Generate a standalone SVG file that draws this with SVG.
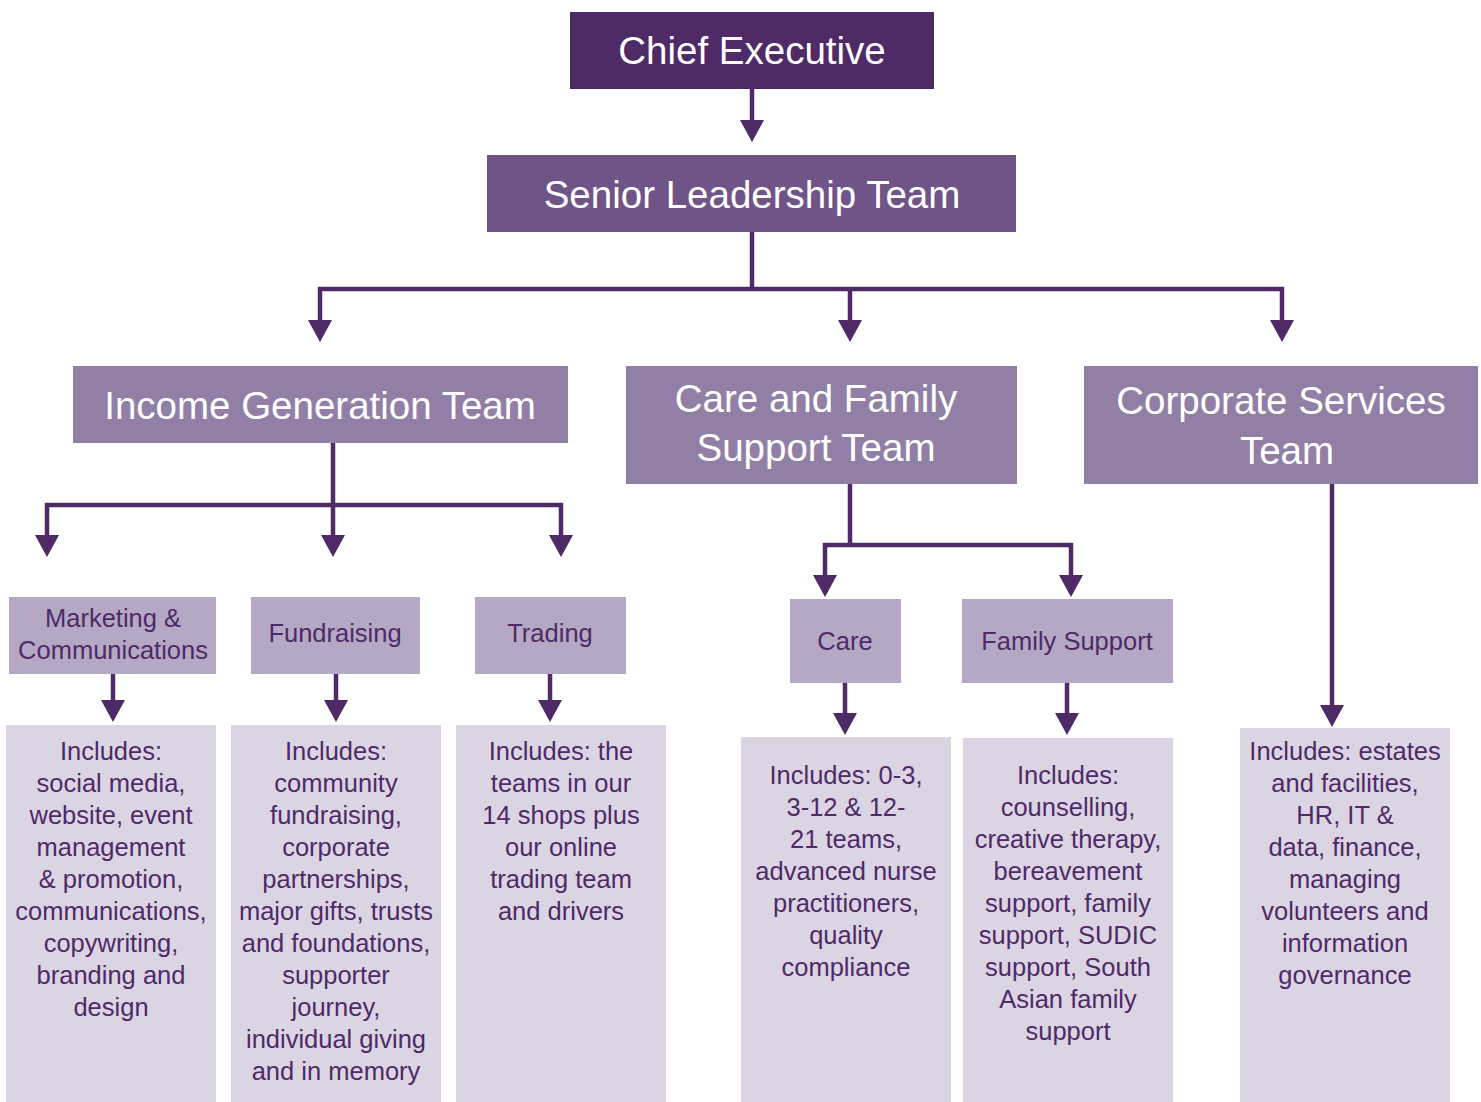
<svg xmlns="http://www.w3.org/2000/svg" width="1481" height="1102" viewBox="0 0 1481 1102">
<defs>
<style>
text{font-family:"Liberation Sans",Arial,sans-serif;text-anchor:middle}
.l1{fill:#4e2a67}
.l1b{fill:#6f5487}
.l2{fill:#927fa6}
.l3{fill:#b5a8c4}
.l4{fill:#dbd5e3}
.tw{fill:#ffffff;font-size:38.5px}
.tp{fill:#4e2a67;font-size:25.5px}
.td{fill:#4e2a67;font-size:25.5px}
.c{stroke:#4e2a67;stroke-width:4.5;fill:none}
.a{stroke:#4e2a67;stroke-width:4.5;fill:none;marker-end:url(#ah)}
</style>
<marker id="ah" markerUnits="userSpaceOnUse" viewBox="0 -12 22 24" refX="10" refY="0" markerWidth="22" markerHeight="24" orient="auto">
<path d="M0,-12 L22,0 L0,12 z" fill="#4e2a67"/>
</marker>
</defs>

<g id="connectors">
<line class="a" x1="752" y1="89" x2="752" y2="130"/>
<line class="c" x1="752" y1="232" x2="752" y2="289"/>
<line class="c" x1="318" y1="289" x2="1284" y2="289"/>
<line class="a" x1="320" y1="287" x2="320" y2="330"/>
<line class="a" x1="850" y1="289" x2="850" y2="330"/>
<line class="a" x1="1282" y1="287" x2="1282" y2="330"/>
<line class="c" x1="333" y1="443" x2="333" y2="505"/>
<line class="c" x1="45" y1="505" x2="563" y2="505"/>
<line class="a" x1="47" y1="503" x2="47" y2="545"/>
<line class="a" x1="333" y1="505" x2="333" y2="545"/>
<line class="a" x1="561" y1="503" x2="561" y2="545"/>
<line class="a" x1="113" y1="674" x2="113" y2="710"/>
<line class="a" x1="336" y1="674" x2="336" y2="710"/>
<line class="a" x1="550" y1="674" x2="550" y2="710"/>
<line class="c" x1="850" y1="484" x2="850" y2="545"/>
<line class="c" x1="823" y1="545" x2="1073" y2="545"/>
<line class="a" x1="825" y1="543" x2="825" y2="585"/>
<line class="a" x1="1071" y1="543" x2="1071" y2="585"/>
<line class="a" x1="845" y1="683" x2="845" y2="723"/>
<line class="a" x1="1067" y1="683" x2="1067" y2="723"/>
<line class="a" x1="1332" y1="484" x2="1332" y2="715"/>
</g>

<g id="chief">
<rect class="l1" x="570" y="12" width="364" height="77"/>
<text class="tw" x="752" y="64" font-size="39">Chief Executive</text>
</g>
<g id="slt">
<rect class="l1b" x="487" y="155" width="529" height="77"/>
<text class="tw" x="752" y="208">Senior Leadership Team</text>
</g>
<g id="income">
<rect class="l2" x="73" y="366" width="495" height="77"/>
<text class="tw" x="320" y="419">Income Generation Team</text>
</g>
<g id="carefamily">
<rect class="l2" x="626" y="366" width="391" height="118"/>
<text class="tw" x="816" y="412">Care and Family</text>
<text class="tw" x="816" y="461">Support Team</text>
</g>
<g id="corporate">
<rect class="l2" x="1084" y="366" width="394" height="118"/>
<text class="tw" x="1281" y="414">Corporate Services</text>
<text class="tw" x="1287" y="464">Team</text>
</g>

<g id="marketing">
<rect class="l3" x="9" y="597" width="207" height="77"/>
<text class="tp" x="113" y="627">Marketing &amp;</text>
<text class="tp" x="113" y="659">Communications</text>
</g>
<g id="fundraising">
<rect class="l3" x="251" y="597" width="169" height="77"/>
<text class="tp" x="335" y="642">Fundraising</text>
</g>
<g id="trading">
<rect class="l3" x="475" y="597" width="151" height="77"/>
<text class="tp" x="550" y="642">Trading</text>
</g>
<g id="care">
<rect class="l3" x="790" y="599" width="111" height="84"/>
<text class="tp" x="845" y="650">Care</text>
</g>
<g id="familysupport">
<rect class="l3" x="962" y="599" width="211" height="84"/>
<text class="tp" x="1067" y="650">Family Support</text>
</g>

<g id="marketing-detail">
<rect class="l4" x="6" y="725" width="210" height="377"/>
<text class="td" x="111" y="760">Includes:</text>
<text class="td" x="111" y="792">social media,</text>
<text class="td" x="111" y="824">website, event</text>
<text class="td" x="111" y="856">management</text>
<text class="td" x="111" y="888">&amp; promotion,</text>
<text class="td" x="111" y="920">communications,</text>
<text class="td" x="111" y="952">copywriting,</text>
<text class="td" x="111" y="984">branding and</text>
<text class="td" x="111" y="1016">design</text>
</g>
<g id="fundraising-detail">
<rect class="l4" x="231" y="725" width="210" height="377"/>
<text class="td" x="336" y="760">Includes:</text>
<text class="td" x="336" y="792">community</text>
<text class="td" x="336" y="824">fundraising,</text>
<text class="td" x="336" y="856">corporate</text>
<text class="td" x="336" y="888">partnerships,</text>
<text class="td" x="336" y="920">major gifts, trusts</text>
<text class="td" x="336" y="952">and foundations,</text>
<text class="td" x="336" y="984">supporter</text>
<text class="td" x="336" y="1016">journey,</text>
<text class="td" x="336" y="1048">individual giving</text>
<text class="td" x="336" y="1080">and in memory</text>
</g>
<g id="trading-detail">
<rect class="l4" x="456" y="725" width="210" height="377"/>
<text class="td" x="561" y="760">Includes: the</text>
<text class="td" x="561" y="792">teams in our</text>
<text class="td" x="561" y="824">14 shops plus</text>
<text class="td" x="561" y="856">our online</text>
<text class="td" x="561" y="888">trading team</text>
<text class="td" x="561" y="920">and drivers</text>
</g>
<g id="care-detail">
<rect class="l4" x="741" y="737" width="210" height="365"/>
<text class="td" x="846" y="784">Includes: 0-3,</text>
<text class="td" x="846" y="816">3-12 &amp; 12-</text>
<text class="td" x="846" y="848">21 teams,</text>
<text class="td" x="846" y="880">advanced nurse</text>
<text class="td" x="846" y="912">practitioners,</text>
<text class="td" x="846" y="944">quality</text>
<text class="td" x="846" y="976">compliance</text>
</g>
<g id="family-detail">
<rect class="l4" x="963" y="738" width="210" height="364"/>
<text class="td" x="1068" y="784">Includes:</text>
<text class="td" x="1068" y="816">counselling,</text>
<text class="td" x="1068" y="848">creative therapy,</text>
<text class="td" x="1068" y="880">bereavement</text>
<text class="td" x="1068" y="912">support, family</text>
<text class="td" x="1068" y="944">support, SUDIC</text>
<text class="td" x="1068" y="976">support, South</text>
<text class="td" x="1068" y="1008">Asian family</text>
<text class="td" x="1068" y="1040">support</text>
</g>
<g id="corporate-detail">
<rect class="l4" x="1240" y="728" width="210" height="374"/>
<text class="td" x="1345" y="760">Includes: estates</text>
<text class="td" x="1345" y="792">and facilities,</text>
<text class="td" x="1345" y="824">HR, IT &amp;</text>
<text class="td" x="1345" y="856">data, finance,</text>
<text class="td" x="1345" y="888">managing</text>
<text class="td" x="1345" y="920">volunteers and</text>
<text class="td" x="1345" y="952">information</text>
<text class="td" x="1345" y="984">governance</text>
</g>
</svg>
